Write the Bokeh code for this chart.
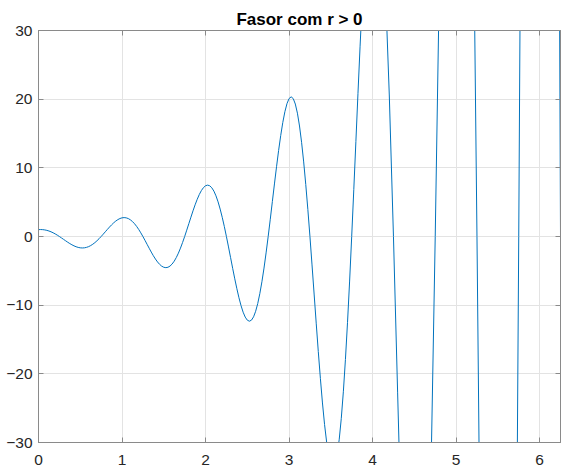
from bokeh.plotting import figure
from bokeh.models import LinearAxis, FixedTicker, Range1d
from bokeh.embed import file_html
from bokeh.resources import INLINE

# Sample times (s): fine steps through the visible oscillations, coarser later
t = [
    0.000, 0.025, 0.050, 0.075, 0.100, 0.125, 0.150, 0.175, 0.200, 0.225,
    0.250, 0.275, 0.300, 0.325, 0.350, 0.375, 0.400, 0.425, 0.450, 0.475,
    0.500, 0.525, 0.550, 0.575, 0.600, 0.625, 0.650, 0.675, 0.700, 0.725,
    0.750, 0.775, 0.800, 0.825, 0.850, 0.875, 0.900, 0.925, 0.950, 0.975,
    1.000, 1.025, 1.050, 1.075, 1.100, 1.125, 1.150, 1.175, 1.200, 1.225,
    1.250, 1.275, 1.300, 1.325, 1.350, 1.375, 1.400, 1.425, 1.450, 1.475,
    1.500, 1.525, 1.550, 1.575, 1.600, 1.625, 1.650, 1.675, 1.700, 1.725,
    1.750, 1.775, 1.800, 1.825, 1.850, 1.875, 1.900, 1.925, 1.950, 1.975,
    2.000, 2.025, 2.050, 2.075, 2.100, 2.125, 2.150, 2.175, 2.200, 2.225,
    2.250, 2.275, 2.300, 2.325, 2.350, 2.375, 2.400, 2.425, 2.450, 2.475,
    2.500, 2.525, 2.550, 2.575, 2.600, 2.625, 2.650, 2.675, 2.700, 2.725,
    2.750, 2.775, 2.800, 2.825, 2.850, 2.875, 2.900, 2.925, 2.950, 2.975,
    3.000, 3.025, 3.050, 3.075, 3.100, 3.125, 3.150, 3.175, 3.200, 3.225,
    3.250, 3.275, 3.300, 3.325, 3.350, 3.375, 3.400, 3.425, 3.450, 3.475,
    3.500, 3.525, 3.550, 3.575, 3.600, 3.625, 3.650, 3.675, 3.700, 3.725,
    3.750, 3.775, 3.800, 3.825, 3.850, 3.875, 3.900,
    3.95, 4.00, 4.05, 4.10, 4.15, 4.20, 4.25, 4.30, 4.35, 4.40, 4.45,
    4.50, 4.55, 4.60, 4.65, 4.70, 4.75, 4.80, 4.85, 4.90, 4.95,
    5.00, 5.05, 5.10, 5.15, 5.20, 5.25, 5.30, 5.35, 5.40, 5.45,
    5.50, 5.55, 5.60, 5.65, 5.70, 5.75, 5.80, 5.85, 5.90, 5.95,
    6.00, 6.05, 6.10, 6.15, 6.20, 6.25,
]

# Phasor projection x(t), growing envelope (r > 0)
x = [
    1.000, 1.013, 1.000, 0.960, 0.894, 0.801, 0.683, 0.541, 0.377, 0.196,
    0.000, -0.206, -0.417, -0.628, -0.834, -1.029, -1.207, -1.363, -1.492, -1.588,
    -1.649, -1.670, -1.648, -1.583, -1.474, -1.321, -1.126, -0.892, -0.622, -0.323,
    0.000, 0.340, 0.688, 1.036, 1.375, 1.696, 1.990, 2.247, 2.459, 2.619,
    2.718, 2.753, 2.718, 2.611, 2.430, 2.178, 1.856, 1.470, 1.026, 0.533,
    0.000, -0.560, -1.134, -1.708, -2.267, -2.797, -3.281, -3.705, -4.054, -4.317,
    -4.482, -4.539, -4.481, -4.304, -4.007, -3.591, -3.061, -2.424, -1.692, -0.878,
    0.000, 0.923, 1.869, 2.816, 3.738, 4.611, 5.409, 6.108, 6.685, 7.118,
    7.389, 7.483, 7.388, 7.096, 6.607, 5.921, 5.046, 3.996, 2.789, 1.448,
    0.000, -1.522, -3.082, -4.643, -6.163, -7.602, -8.918, -10.070, -11.021, -11.735,
    -12.183, -12.337, -12.180, -11.700, -10.892, -9.761, -8.320, -6.588, -4.598, -2.387,
    0.000, 2.509, 5.082, 7.655, 10.162, 12.534, 14.703, 16.603, 18.171, 19.348,
    20.086, 20.340, 20.082, 19.290, 17.959, 16.094, 13.717, 10.862, 7.581, 3.935,
    0.000, -4.137, -8.378, -12.621, -16.754, -20.665, -24.242, -27.374, -29.959, -31.900,
    -33.116, -33.536, -33.109, -31.804, -29.609, -26.534, -22.615, -17.909, -12.499, -6.488,
    0.000, 6.820, 13.813, 20.808, 27.622, 34.070, 39.967,
    49.394, 54.598, 54.588, 48.816, 37.286, 20.607, 0.000, -22.775, -45.541, -65.895, -81.436,
    -90.017, -90.001, -80.485, -61.474, -33.976, 0.000, 37.549, 75.084, 108.643, 134.265,
    148.413, 148.386, 132.697, 101.352, 56.016, 0.000, -61.908, -123.792, -179.121, -221.366,
    -244.692, -244.648, -218.779, -167.102, -92.355, 0.000, 102.068, 204.099, 295.321, 364.971,
    403.429, 403.355, 360.707, 275.505, 152.268, 0.000,
]

x_ticks = [0, 1, 2, 3, 4, 5, 6]
y_ticks = [-30, -20, -10, 0, 10, 20, 30]
title_text = "Fasor com r > 0"

FONT = "Liberation Sans"
AXIS_COLOR = "#8a8a8a"
LABEL_COLOR = "#262626"

p = figure(
    width=561, height=468,
    x_range=Range1d(0, 6.25), y_range=Range1d(-30, 30),
    output_backend="svg", toolbar_location=None,
    min_border_left=38, min_border_right=1,
    min_border_top=30, min_border_bottom=26,
    background_fill_color="white", border_fill_color="white",
)
p.outline_line_color = AXIS_COLOR
p.outline_line_width = 1

p.title.text = title_text
p.title.align = "center"
p.title.text_font = FONT
p.title.text_font_size = "17px"
p.title.text_font_style = "bold"
p.title.text_color = "black"
p.title.standoff = 4

p.line(t, x, line_color="#0072BD", line_width=1)


def style_axis(ax, ticks, show_labels):
    ax.ticker = FixedTicker(ticks=ticks)
    ax.axis_line_color = AXIS_COLOR
    ax.major_tick_line_color = AXIS_COLOR
    ax.major_tick_in = 5
    ax.major_tick_out = 0
    ax.minor_tick_line_color = None
    ax.major_label_text_font = FONT
    ax.major_label_text_color = LABEL_COLOR
    ax.major_label_text_font_size = "15.5px"
    if not show_labels:
        ax.major_label_overrides = {tk: "" for tk in ticks}
        ax.major_label_standoff = 0


style_axis(p.xaxis[0], x_ticks, True)
style_axis(p.yaxis[0], y_ticks, True)
p.xaxis[0].major_label_standoff = 12
p.yaxis[0].major_label_standoff = 6

top_ax = LinearAxis()
style_axis(top_ax, x_ticks, False)
p.add_layout(top_ax, "above")
right_ax = LinearAxis()
style_axis(right_ax, y_ticks, False)
p.add_layout(right_ax, "right")

p.xgrid.ticker = FixedTicker(ticks=x_ticks)
p.ygrid.ticker = FixedTicker(ticks=y_ticks)
p.xgrid.grid_line_color = "#e3e3e3"
p.ygrid.grid_line_color = "#e3e3e3"

open("out.html", "w").write(file_html(p, INLINE))
